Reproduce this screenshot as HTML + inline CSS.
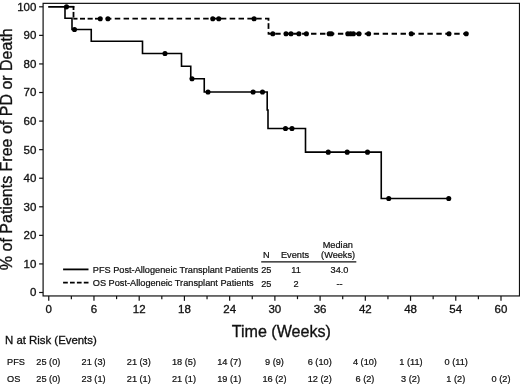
<!DOCTYPE html>
<html><head><meta charset="utf-8"><title>KM</title>
<style>
html,body{margin:0;padding:0;background:#fff;}
body{width:520px;height:384px;overflow:hidden;}
svg{display:block;will-change:transform;opacity:0.9999;}
svg text{font-family:"Liberation Sans",sans-serif;fill:#111;stroke:#111;stroke-width:0.32px;}
svg text[font-size="9.2"]{stroke-width:0.22px;}
</style></head><body>
<svg width="520" height="384" viewBox="0 0 520 384">
<rect width="520" height="384" fill="#fff"/>
<rect x="43.10" y="3.35" width="476.40" height="292.60" fill="none" stroke="#111" stroke-width="1.2"/>
<line x1="39.1" y1="292.50" x2="43.10" y2="292.50" stroke="#111" stroke-width="1.2"/>
<text x="36.4" y="296.40" font-size="11.5" text-anchor="end">0</text>
<line x1="39.1" y1="263.93" x2="43.10" y2="263.93" stroke="#111" stroke-width="1.2"/>
<text x="36.4" y="267.83" font-size="11.5" text-anchor="end">10</text>
<line x1="39.1" y1="235.36" x2="43.10" y2="235.36" stroke="#111" stroke-width="1.2"/>
<text x="36.4" y="239.26" font-size="11.5" text-anchor="end">20</text>
<line x1="39.1" y1="206.79" x2="43.10" y2="206.79" stroke="#111" stroke-width="1.2"/>
<text x="36.4" y="210.69" font-size="11.5" text-anchor="end">30</text>
<line x1="39.1" y1="178.22" x2="43.10" y2="178.22" stroke="#111" stroke-width="1.2"/>
<text x="36.4" y="182.12" font-size="11.5" text-anchor="end">40</text>
<line x1="39.1" y1="149.65" x2="43.10" y2="149.65" stroke="#111" stroke-width="1.2"/>
<text x="36.4" y="153.55" font-size="11.5" text-anchor="end">50</text>
<line x1="39.1" y1="121.08" x2="43.10" y2="121.08" stroke="#111" stroke-width="1.2"/>
<text x="36.4" y="124.98" font-size="11.5" text-anchor="end">60</text>
<line x1="39.1" y1="92.51" x2="43.10" y2="92.51" stroke="#111" stroke-width="1.2"/>
<text x="36.4" y="96.41" font-size="11.5" text-anchor="end">70</text>
<line x1="39.1" y1="63.94" x2="43.10" y2="63.94" stroke="#111" stroke-width="1.2"/>
<text x="36.4" y="67.84" font-size="11.5" text-anchor="end">80</text>
<line x1="39.1" y1="35.37" x2="43.10" y2="35.37" stroke="#111" stroke-width="1.2"/>
<text x="36.4" y="39.27" font-size="11.5" text-anchor="end">90</text>
<line x1="39.1" y1="6.80" x2="43.10" y2="6.80" stroke="#111" stroke-width="1.2"/>
<text x="36.4" y="10.70" font-size="11.5" text-anchor="end">100</text>
<line x1="48.75" y1="295.95" x2="48.75" y2="300.85" stroke="#111" stroke-width="1.2"/>
<text x="48.75" y="313.3" font-size="11.5" text-anchor="middle">0</text>
<line x1="71.36" y1="295.95" x2="71.36" y2="299.15" stroke="#111" stroke-width="1.2"/>
<line x1="93.97" y1="295.95" x2="93.97" y2="300.85" stroke="#111" stroke-width="1.2"/>
<text x="93.97" y="313.3" font-size="11.5" text-anchor="middle">6</text>
<line x1="116.59" y1="295.95" x2="116.59" y2="299.15" stroke="#111" stroke-width="1.2"/>
<line x1="139.20" y1="295.95" x2="139.20" y2="300.85" stroke="#111" stroke-width="1.2"/>
<text x="139.20" y="313.3" font-size="11.5" text-anchor="middle">12</text>
<line x1="161.81" y1="295.95" x2="161.81" y2="299.15" stroke="#111" stroke-width="1.2"/>
<line x1="184.42" y1="295.95" x2="184.42" y2="300.85" stroke="#111" stroke-width="1.2"/>
<text x="184.42" y="313.3" font-size="11.5" text-anchor="middle">18</text>
<line x1="207.04" y1="295.95" x2="207.04" y2="299.15" stroke="#111" stroke-width="1.2"/>
<line x1="229.65" y1="295.95" x2="229.65" y2="300.85" stroke="#111" stroke-width="1.2"/>
<text x="229.65" y="313.3" font-size="11.5" text-anchor="middle">24</text>
<line x1="252.26" y1="295.95" x2="252.26" y2="299.15" stroke="#111" stroke-width="1.2"/>
<line x1="274.88" y1="295.95" x2="274.88" y2="300.85" stroke="#111" stroke-width="1.2"/>
<text x="274.88" y="313.3" font-size="11.5" text-anchor="middle">30</text>
<line x1="297.49" y1="295.95" x2="297.49" y2="299.15" stroke="#111" stroke-width="1.2"/>
<line x1="320.10" y1="295.95" x2="320.10" y2="300.85" stroke="#111" stroke-width="1.2"/>
<text x="320.10" y="313.3" font-size="11.5" text-anchor="middle">36</text>
<line x1="342.71" y1="295.95" x2="342.71" y2="299.15" stroke="#111" stroke-width="1.2"/>
<line x1="365.32" y1="295.95" x2="365.32" y2="300.85" stroke="#111" stroke-width="1.2"/>
<text x="365.32" y="313.3" font-size="11.5" text-anchor="middle">42</text>
<line x1="387.94" y1="295.95" x2="387.94" y2="299.15" stroke="#111" stroke-width="1.2"/>
<line x1="410.55" y1="295.95" x2="410.55" y2="300.85" stroke="#111" stroke-width="1.2"/>
<text x="410.55" y="313.3" font-size="11.5" text-anchor="middle">48</text>
<line x1="433.16" y1="295.95" x2="433.16" y2="299.15" stroke="#111" stroke-width="1.2"/>
<line x1="455.77" y1="295.95" x2="455.77" y2="300.85" stroke="#111" stroke-width="1.2"/>
<text x="455.77" y="313.3" font-size="11.5" text-anchor="middle">54</text>
<line x1="478.39" y1="295.95" x2="478.39" y2="299.15" stroke="#111" stroke-width="1.2"/>
<line x1="501.00" y1="295.95" x2="501.00" y2="300.85" stroke="#111" stroke-width="1.2"/>
<text x="501.00" y="313.3" font-size="11.5" text-anchor="middle">60</text>
<polyline fill="none" stroke="#000" stroke-width="1.6" stroke-linejoin="miter" points="48.20,6.85 65.00,6.85 65.00,18.20 72.00,18.20 72.00,29.50 91.25,29.50 91.25,41.25 142.50,41.25 142.50,53.45 181.50,53.45 181.50,66.25 190.75,66.25 190.75,78.75 204.25,78.75 204.25,92.00 267.20,92.00 267.20,110.00 268.00,110.00 268.00,128.45 305.50,128.45 305.50,152.15 381.25,152.15 381.25,198.55 448.75,198.55"/>
<line x1="66.00" y1="6.80" x2="74.30" y2="6.80" stroke="#000" stroke-width="1.80"/>
<line x1="73.50" y1="6.00" x2="73.50" y2="10.00" stroke="#000" stroke-width="1.80"/>
<line x1="73.50" y1="11.90" x2="73.50" y2="17.60" stroke="#000" stroke-width="1.80"/>
<line x1="73.30" y1="18.70" x2="77.50" y2="18.70" stroke="#000" stroke-width="1.80"/>
<line x1="80.00" y1="18.70" x2="85.00" y2="18.70" stroke="#000" stroke-width="1.80"/>
<line x1="87.60" y1="18.70" x2="92.70" y2="18.70" stroke="#000" stroke-width="1.80"/>
<line x1="95.00" y1="18.70" x2="100.25" y2="18.70" stroke="#000" stroke-width="1.80"/>
<line x1="105.90" y1="18.70" x2="111.40" y2="18.70" stroke="#000" stroke-width="1.80"/>
<polyline fill="none" stroke="#000" stroke-width="1.80" stroke-dasharray="5.5 3.34" points="114.75,18.70 268.50,18.70 268.50,20.9"/>
<line x1="268.50" y1="23.20" x2="268.50" y2="28.90" stroke="#000" stroke-width="1.80"/>
<line x1="268.50" y1="31.90" x2="268.50" y2="34.55" stroke="#000" stroke-width="1.80"/>
<line x1="268.50" y1="33.75" x2="273.00" y2="33.75" stroke="#000" stroke-width="1.80"/>
<line x1="275.25" y1="33.75" x2="466.25" y2="33.75" stroke="#000" stroke-width="1.80" stroke-dasharray="5.4 3.55"/>
<circle cx="66.50" cy="6.85" r="2.55" fill="#000"/>
<circle cx="74.50" cy="29.50" r="2.55" fill="#000"/>
<circle cx="165.00" cy="53.45" r="2.55" fill="#000"/>
<circle cx="192.00" cy="78.75" r="2.55" fill="#000"/>
<circle cx="208.00" cy="92.00" r="2.55" fill="#000"/>
<circle cx="253.10" cy="92.00" r="2.55" fill="#000"/>
<circle cx="262.50" cy="92.00" r="2.55" fill="#000"/>
<circle cx="285.50" cy="128.45" r="2.55" fill="#000"/>
<circle cx="292.00" cy="128.45" r="2.55" fill="#000"/>
<circle cx="328.25" cy="152.15" r="2.55" fill="#000"/>
<circle cx="347.20" cy="152.15" r="2.55" fill="#000"/>
<circle cx="367.50" cy="152.15" r="2.55" fill="#000"/>
<circle cx="388.75" cy="198.55" r="2.55" fill="#000"/>
<circle cx="448.75" cy="198.55" r="2.55" fill="#000"/>
<circle cx="100.25" cy="18.70" r="2.55" fill="#000"/>
<circle cx="107.90" cy="18.70" r="2.55" fill="#000"/>
<circle cx="212.75" cy="18.70" r="2.55" fill="#000"/>
<circle cx="218.75" cy="18.70" r="2.55" fill="#000"/>
<circle cx="254.10" cy="18.70" r="2.55" fill="#000"/>
<circle cx="272.80" cy="33.75" r="2.55" fill="#000"/>
<circle cx="286.00" cy="33.75" r="2.55" fill="#000"/>
<circle cx="291.00" cy="33.75" r="2.55" fill="#000"/>
<circle cx="298.90" cy="33.75" r="2.55" fill="#000"/>
<circle cx="306.40" cy="33.75" r="2.55" fill="#000"/>
<circle cx="329.20" cy="33.75" r="2.55" fill="#000"/>
<circle cx="331.40" cy="33.75" r="2.55" fill="#000"/>
<circle cx="347.80" cy="33.75" r="2.55" fill="#000"/>
<circle cx="350.60" cy="33.75" r="2.55" fill="#000"/>
<circle cx="353.40" cy="33.75" r="2.55" fill="#000"/>
<circle cx="359.00" cy="33.75" r="2.55" fill="#000"/>
<circle cx="368.60" cy="33.75" r="2.55" fill="#000"/>
<circle cx="411.25" cy="33.75" r="2.55" fill="#000"/>
<circle cx="449.00" cy="33.75" r="2.55" fill="#000"/>
<circle cx="466.25" cy="33.75" r="2.55" fill="#000"/>
<line x1="63.1" y1="269.4" x2="88.5" y2="269.4" stroke="#000" stroke-width="1.8"/>
<line x1="63.1" y1="282.65" x2="88.5" y2="282.65" stroke="#000" stroke-width="1.8" stroke-dasharray="4.7 2.2"/>
<text x="92.8" y="273.05" font-size="9.2">PFS Post-Allogeneic Transplant Patients</text>
<text x="92.8" y="286.3" font-size="9.2">OS Post-Allogeneic Transplant Patients</text>
<text x="337.8" y="248.2" font-size="9.2" text-anchor="middle">Median</text>
<text x="338.1" y="257.9" font-size="9.2" text-anchor="middle">(Weeks)</text>
<text x="266.25" y="257.9" font-size="9.2" text-anchor="middle">N</text>
<text x="295" y="257.9" font-size="9.2" text-anchor="middle">Events</text>
<line x1="261.2" y1="261.9" x2="356.3" y2="261.9" stroke="#111" stroke-width="1.3"/>
<text x="266.25" y="273.30" font-size="9.2" text-anchor="middle">25</text>
<text x="296" y="273.30" font-size="9.2" text-anchor="middle">11</text>
<text x="339.5" y="273.30" font-size="9.2" text-anchor="middle">34.0</text>
<text x="266.25" y="286.50" font-size="9.2" text-anchor="middle">25</text>
<text x="296" y="286.50" font-size="9.2" text-anchor="middle">2</text>
<text x="339.5" y="286.50" font-size="9.2" text-anchor="middle">--</text>
<text x="231.7" y="337.0" font-size="16.1">Time (Weeks)</text>
<text transform="translate(12.2,149.2) rotate(-90)" font-size="16" text-anchor="middle">% of Patients Free of PD or Death</text>
<text x="5" y="344.3" font-size="11.4">N at Risk (Events)</text>
<text x="7" y="365.45" font-size="9.2">PFS</text>
<text x="7" y="381.7" font-size="9.2">OS</text>
<text x="48.35" y="365.45" font-size="9.2" text-anchor="middle">25 (0)</text>
<text x="93.57" y="365.45" font-size="9.2" text-anchor="middle">21 (3)</text>
<text x="138.80" y="365.45" font-size="9.2" text-anchor="middle">21 (3)</text>
<text x="184.02" y="365.45" font-size="9.2" text-anchor="middle">18 (5)</text>
<text x="229.25" y="365.45" font-size="9.2" text-anchor="middle">14 (7)</text>
<text x="274.48" y="365.45" font-size="9.2" text-anchor="middle">9 (9)</text>
<text x="319.70" y="365.45" font-size="9.2" text-anchor="middle">6 (10)</text>
<text x="364.93" y="365.45" font-size="9.2" text-anchor="middle">4 (10)</text>
<text x="410.95" y="365.45" font-size="9.2" text-anchor="middle">1 (11)</text>
<text x="456.18" y="365.45" font-size="9.2" text-anchor="middle">0 (11)</text>
<text x="48.35" y="381.7" font-size="9.2" text-anchor="middle">25 (0)</text>
<text x="93.57" y="381.7" font-size="9.2" text-anchor="middle">23 (1)</text>
<text x="138.80" y="381.7" font-size="9.2" text-anchor="middle">21 (1)</text>
<text x="184.02" y="381.7" font-size="9.2" text-anchor="middle">21 (1)</text>
<text x="229.25" y="381.7" font-size="9.2" text-anchor="middle">19 (1)</text>
<text x="274.48" y="381.7" font-size="9.2" text-anchor="middle">16 (2)</text>
<text x="319.70" y="381.7" font-size="9.2" text-anchor="middle">12 (2)</text>
<text x="364.93" y="381.7" font-size="9.2" text-anchor="middle">6 (2)</text>
<text x="410.55" y="381.7" font-size="9.2" text-anchor="middle">3 (2)</text>
<text x="455.77" y="381.7" font-size="9.2" text-anchor="middle">1 (2)</text>
<text x="501.00" y="381.7" font-size="9.2" text-anchor="middle">0 (2)</text>
</svg>
</body></html>
